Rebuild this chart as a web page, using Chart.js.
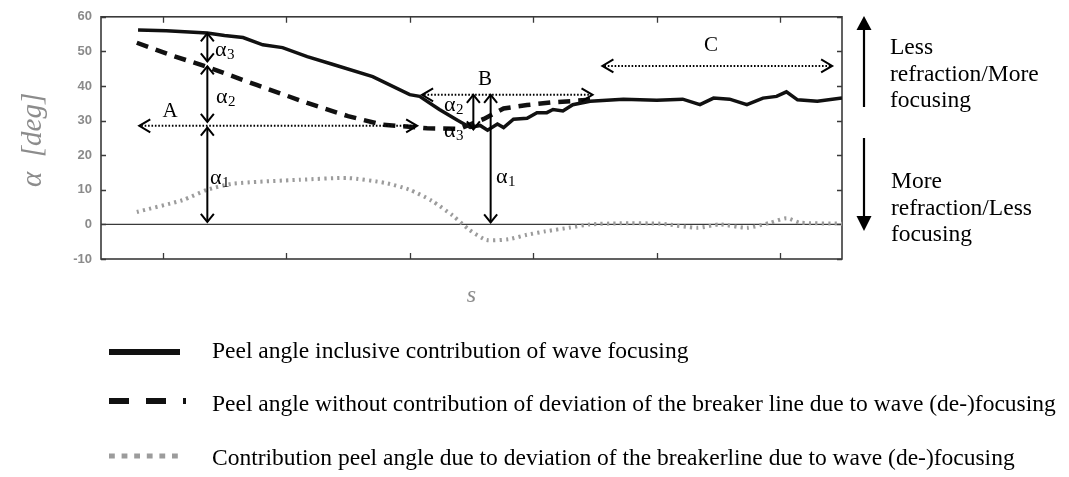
<!DOCTYPE html>
<html>
<head>
<meta charset="utf-8">
<script src="https://cdn.jsdelivr.net/npm/chart.js@4.4.1/dist/chart.umd.min.js"></script>
<style>
  html, body { margin: 0; padding: 0; background: #fff; }
  canvas { display: block; }
</style>
</head>
<body>
<canvas id="peel" width="1069" height="477"></canvas>
<script>
// Along-shore coordinate s (axis units, unlabelled) and peel angle alpha [deg]
const sSolid = [0.30, 0.53, 0.86, 1.00, 1.15, 1.31, 1.47, 1.67, 1.88, 2.20,
                2.50, 2.58, 2.74, 2.89, 2.99, 3.07, 3.13, 3.21, 3.26, 3.34,
                3.45, 3.53, 3.61, 3.66, 3.74, 3.82, 3.96, 4.23, 4.50, 4.71,
                4.85, 4.96, 5.09, 5.23, 5.36, 5.47, 5.55, 5.64, 5.80, 6.00];
const aSolid = [56.2, 56.0, 55.3, 54.6, 54.0, 51.9, 51.1, 48.5, 46.2, 42.7,
                37.5, 37.0, 33.2, 30.0, 28.0, 28.6, 27.2, 29.0, 28.0, 30.4,
                30.7, 32.3, 32.3, 33.2, 32.8, 34.6, 35.6, 36.2, 35.9, 36.2,
                34.6, 36.5, 36.2, 34.6, 36.5, 37.0, 38.3, 36.0, 35.6, 36.5];

const sDash = [0.29, 0.56, 0.86, 1.26, 1.67, 2.00, 2.28, 2.64, 2.90, 3.10, 3.26, 3.45, 3.66, 3.96];
const aDash = [52.5, 49.0, 45.5, 40.3, 35.1, 31.3, 28.8, 27.8, 27.6, 30.5, 33.5, 34.5, 35.3, 36.0];

const sDot = [0.29, 0.66, 0.86, 1.07, 1.61, 2.00, 2.30, 2.50, 2.68, 2.85, 2.98, 3.12, 3.30,
              3.45, 3.60, 3.80, 3.96, 4.20, 4.53, 4.83, 5.01, 5.23, 5.42, 5.55, 5.66, 6.00];
const aDot = [3.6, 7.0, 10.0, 11.8, 12.9, 13.4, 12.0, 10.0, 6.8, 2.5, -1.5, -4.5, -4.3,
              -3.0, -2.0, -0.9, 0.0, 0.3, 0.2, -1.0, 0.0, -1.0, 0.5, 1.8, 0.5, 0.2];

const seriesLabels = [
  'Peel angle inclusive contribution of wave focusing',
  'Peel angle without contribution of deviation of the breaker line due to wave (de-)focusing',
  'Contribution peel angle due to deviation of the breakerline due to wave (de-)focusing'
];

const xTicks = [0.5, 1.5, 2.5, 3.5, 4.5, 5.5];
const yTickStep = 10;

const SERIF = '"Liberation Serif", "Times New Roman", serif';

const toXY = (xs, ys) => xs.map((x, i) => ({ x: x, y: ys[i] }));

// Open chevron arrow head at (x, y) pointing in direction (dx, dy)
function chevron(ctx, x, y, dx, dy, len, half) {
  const nx = -dy, ny = dx;
  ctx.beginPath();
  ctx.moveTo(x - dx * len + nx * half, y - dy * len + ny * half);
  ctx.lineTo(x, y);
  ctx.lineTo(x - dx * len - nx * half, y - dy * len - ny * half);
  ctx.stroke();
}

function alphaLabel(ctx, x, y, sub) {
  ctx.fillStyle = '#000';
  ctx.textAlign = 'left';
  ctx.textBaseline = 'alphabetic';
  ctx.font = '22px ' + SERIF;
  ctx.fillText('α', x, y);
  const w = ctx.measureText('α').width;
  ctx.font = '15px ' + SERIF;
  ctx.fillText(sub, x + w + 0.5, y + 3);
}

// Axis frame, inward tick marks and the zero reference line
const framePlugin = {
  id: 'frame',
  beforeDatasetsDraw(chart) {
    const { ctx, chartArea: a, scales: { x, y } } = chart;
    ctx.save();
    ctx.strokeStyle = '#3a3a3a';
    ctx.lineWidth = 1.4;
    const y0 = y.getPixelForValue(0);
    ctx.beginPath();
    ctx.moveTo(a.left, y0); ctx.lineTo(a.right, y0);
    ctx.stroke();
    ctx.lineWidth = 1.6;
    ctx.strokeRect(a.left, a.top, a.right - a.left, a.bottom - a.top);
    ctx.lineWidth = 1.3;
    ctx.beginPath();
    y.ticks.forEach(t => {
      const p = Math.round(y.getPixelForValue(t.value)) + 0.5;
      ctx.moveTo(a.left, p); ctx.lineTo(a.left + 5, p);
      ctx.moveTo(a.right, p); ctx.lineTo(a.right - 5, p);
    });
    x.ticks.forEach(t => {
      const p = Math.round(x.getPixelForValue(t.value)) + 0.5;
      ctx.moveTo(p, a.bottom); ctx.lineTo(p, a.bottom - 6);
      ctx.moveTo(p, a.top); ctx.lineTo(p, a.top + 6);
    });
    ctx.stroke();
    ctx.restore();
  }
};

// Region markers A/B/C, the alpha_1..alpha_3 construction, axis titles, side notes and legend
const notesPlugin = {
  id: 'notes',
  afterDatasetsDraw(chart) {
    const { ctx, scales: { x, y } } = chart;
    const px = v => x.getPixelForValue(v);
    const py = v => y.getPixelForValue(v);
    ctx.save();

    // dotted region spans with open heads at both ends
    const spans = [
      { s0: 0.31, s1: 2.56, a: 28.5, name: 'A', ls: 0.56, la: 30.9 },
      { s0: 2.60, s1: 3.98, a: 37.45, name: 'B', ls: 3.11, la: 40.3 },
      { s0: 4.06, s1: 5.92, a: 45.8, name: 'C', ls: 4.94, la: 50.2 }
    ];
    spans.forEach(sp => {
      const x0 = px(sp.s0), x1 = px(sp.s1), yy = py(sp.a);
      ctx.strokeStyle = '#000';
      ctx.lineWidth = 2;
      ctx.setLineDash([1.6, 1.8]);
      ctx.beginPath(); ctx.moveTo(x0 + 2, yy); ctx.lineTo(x1 - 2, yy); ctx.stroke();
      ctx.setLineDash([]);
      ctx.lineWidth = 2;
      chevron(ctx, x0, yy, -1, 0, 11, 6.5);
      chevron(ctx, x1, yy, 1, 0, 11, 6.5);
      ctx.fillStyle = '#000';
      ctx.font = '21px ' + SERIF;
      ctx.textAlign = 'center';
      ctx.textBaseline = 'alphabetic';
      ctx.fillText(sp.name, px(sp.ls), py(sp.la));
    });

    // vertical double-headed arrows
    const bars = [
      { s: 0.861, a0: 55.2, a1: 47.1 },
      { s: 0.861, a0: 45.7, a1: 29.6 },
      { s: 0.861, a0: 28.0, a1: 0.7 },
      { s: 3.015, a0: 37.45, a1: 27.45 },
      { s: 3.155, a0: 37.45, a1: 0.6 }
    ];
    ctx.strokeStyle = '#000';
    ctx.lineWidth = 2;
    bars.forEach(b => {
      const xx = px(b.s), yTop = py(b.a0), yBot = py(b.a1);
      ctx.beginPath(); ctx.moveTo(xx, yTop); ctx.lineTo(xx, yBot); ctx.stroke();
      chevron(ctx, xx, yTop, 0, -1, 8, 6.5);
      chevron(ctx, xx, yBot, 0, 1, 8, 6.5);
    });

    const alphas = [
      { s: 0.923, a: 48.8, sub: '3' },
      { s: 0.931, a: 35.1, sub: '2' },
      { s: 0.883, a: 11.6, sub: '1' },
      { s: 2.777, a: 32.8, sub: '2' },
      { s: 2.777, a: 25.2, sub: '3' },
      { s: 3.198, a: 11.9, sub: '1' }
    ];
    alphas.forEach(l => alphaLabel(ctx, px(l.s), py(l.a), l.sub));

    // axis titles
    ctx.fillStyle = '#8c8c8c';
    ctx.textAlign = 'center';
    ctx.textBaseline = 'middle';
    ctx.save();
    ctx.translate(33, (y.top + y.bottom) / 2 + 2);
    ctx.rotate(-Math.PI / 2);
    ctx.font = 'italic 29px ' + SERIF;
    ctx.fillText('α  [deg]', 0, 0);
    ctx.restore();
    ctx.font = 'italic 24px ' + SERIF;
    ctx.fillText('s', (x.left + x.right) / 2, 296);

    // side notes: direction of the peel angle change
    const ax = 864;
    ctx.strokeStyle = '#000';
    ctx.fillStyle = '#000';
    ctx.lineWidth = 2.2;
    ctx.beginPath(); ctx.moveTo(ax, 107); ctx.lineTo(ax, 28); ctx.stroke();
    ctx.beginPath(); ctx.moveTo(ax, 16); ctx.lineTo(ax - 7.5, 30); ctx.lineTo(ax + 7.5, 30); ctx.closePath(); ctx.fill();
    ctx.beginPath(); ctx.moveTo(ax, 138); ctx.lineTo(ax, 218); ctx.stroke();
    ctx.beginPath(); ctx.moveTo(ax, 231); ctx.lineTo(ax - 7.5, 216); ctx.lineTo(ax + 7.5, 216); ctx.closePath(); ctx.fill();

    ctx.font = '23.5px ' + SERIF;
    ctx.textAlign = 'left';
    ctx.textBaseline = 'alphabetic';
    [['Less', 54], ['refraction/More', 81], ['focusing', 107]].forEach(t => ctx.fillText(t[0], 890, t[1]));
    [['More', 188], ['refraction/Less', 215], ['focusing', 241]].forEach(t => ctx.fillText(t[0], 891, t[1]));

    // legend
    const legendDash = [[], [20, 17], [5.8, 6.8]];
    const legendWidth = [6, 6, 5];
    const legendEnd = [180, 186, 180];
    const sampleY = [352, 401, 456];
    const textY = [358, 411, 465];
    chart.data.datasets.forEach((ds, i) => {
      ctx.save();
      ctx.strokeStyle = ds.borderColor;
      ctx.lineWidth = legendWidth[i];
      ctx.lineCap = 'butt';
      ctx.setLineDash(legendDash[i]);
      ctx.beginPath(); ctx.moveTo(109, sampleY[i]); ctx.lineTo(legendEnd[i], sampleY[i]); ctx.stroke();
      ctx.restore();
      ctx.fillStyle = '#000';
      ctx.font = '23.5px ' + SERIF;
      ctx.textAlign = 'left';
      ctx.textBaseline = 'alphabetic';
      ctx.fillText(ds.label, 212, textY[i]);
    });

    ctx.restore();
  }
};

new Chart(document.getElementById('peel'), {
  type: 'line',
  data: {
    datasets: [
      { label: seriesLabels[0], data: toXY(sSolid, aSolid), borderColor: '#111', borderWidth: 3.5,
        pointRadius: 0, tension: 0, order: 1 },
      { label: seriesLabels[1], data: toXY(sDash, aDash), borderColor: '#111', borderWidth: 4.5,
        borderDash: [12, 8], pointRadius: 0, tension: 0, order: 2 },
      { label: seriesLabels[2], data: toXY(sDot, aDot), borderColor: '#9c9c9c', borderWidth: 4,
        borderDash: [2.2, 4.2], pointRadius: 0, tension: 0.2, order: 3 }
    ]
  },
  options: {
    responsive: false,
    animation: false,
    devicePixelRatio: 1,
    layout: { padding: { top: 12, right: 227, left: 0, bottom: 0 } },
    plugins: { legend: { display: false }, tooltip: { enabled: false } },
    scales: {
      x: {
        type: 'linear', min: 0, max: 6,
        afterBuildTicks: s => { s.ticks = xTicks.map(v => ({ value: v })); },
        ticks: { display: false },
        grid: { display: false, drawTicks: false },
        border: { display: false },
        afterFit: s => { s.height = 218; }
      },
      y: {
        min: -10, max: 60,
        ticks: { stepSize: yTickStep, color: '#8a8a8a', padding: 9,
                 font: { family: '"Liberation Sans", Arial, sans-serif', size: 13, weight: 'bold' } },
        grid: { display: false, drawTicks: false },
        border: { display: false },
        afterFit: s => { s.width = 101; }
      }
    }
  },
  plugins: [framePlugin, notesPlugin]
});
</script>
</body>
</html>
